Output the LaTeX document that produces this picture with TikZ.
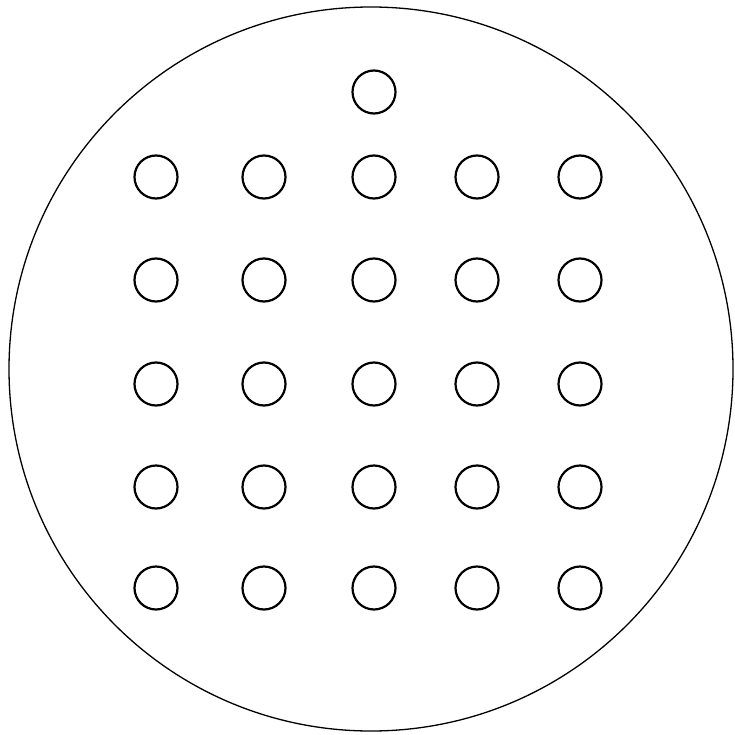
\documentclass[tikz,border=0pt]{standalone}
\begin{document}
\begin{tikzpicture}[x=1pt,y=-1pt,
  dish/.style={circle,draw=black,line width=1.3pt,minimum size=724pt,inner sep=0pt},
  well/.style={circle,draw=black,line width=2.2pt,minimum size=43pt,inner sep=0pt}]
\useasboundingbox (0,0) rectangle (734,735);
\fill[white] (0,0) rectangle (734,735);
\node[dish] (dish) at (371,369) {};
\node[well] (top) at (374,92) {};
\foreach \r/\y in {1/177,2/280,3/384,4/487,5/588}{
  \foreach \c/\x in {1/156,2/264,3/374,4/477,5/580}{
    \node[well] (w\r\c) at (\x,\y) {};
  }
}
\end{tikzpicture}
\end{document}
